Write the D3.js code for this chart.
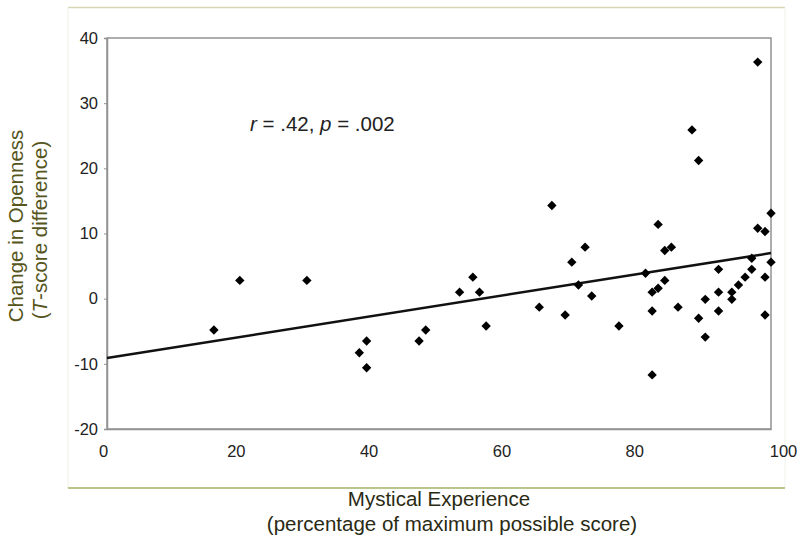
<!DOCTYPE html>
<html>
<head>
<meta charset="utf-8">
<script src="https://cdn.jsdelivr.net/npm/d3@7"></script>
<style>
  html, body { margin: 0; padding: 0; background: #fff; }
  svg { display: block; font-family: "Liberation Sans", Arial, sans-serif; }
</style>
</head>
<body>
<svg id="chart" width="800" height="544"></svg>
<script>
// ---- data ----
const mysticalX = [16.1, 20.0, 30.1, 38.0, 39.1, 39.1,
  47.0, 48.0, 53.1, 55.1, 56.1, 57.1, 65.1, 67.0, 69.0, 70.0, 71.0, 72.0, 73.0, 77.1,
  81.1, 82.1, 82.1, 82.1, 83.0, 83.0, 84.0, 84.0, 85.0, 86.0, 88.1, 89.1, 89.1, 90.1, 90.1,
  92.1, 92.1, 92.1, 94.1, 94.1, 95.1, 96.1, 97.1, 97.1, 98.0, 98.0, 99.1, 99.1, 99.1, 100, 100];
const opennessY = [-4.8, 2.8, 2.8, -8.3, -6.5, -10.6,
  -6.5, -4.8, 1.0, 3.3, 1.0, -4.2, -1.3, 14.3, -2.5, 5.6, 2.1, 7.9, 0.4, -4.2,
  3.9, 1.0, -1.9, -11.7, 11.4, 1.6, 7.4, 2.8, 7.9, -1.3, 25.9, 21.2, -3.0, -0.1, -5.9,
  4.5, 1.0, -1.9, 1.0, -0.1, 2.1, 3.3, 4.5, 6.2, 36.3, 10.8, 10.3, 3.3, -2.5, 13.1, 5.6];
const xTicks = [0, 20, 40, 60, 80, 100];
const yTicks = [-20, -10, 0, 10, 20, 30, 40];
const fitIntercept = -9.1;
const fitSlope = 0.161;
const xTitle = ["Mystical Experience", "(percentage of maximum possible score)"];

// ---- layout ----
const svg = d3.select("#chart");
const L = 107, R = 771, T = 38, B = 429;
const x = d3.scaleLinear().domain([0, 100]).range([L, R]);
const y = d3.scaleLinear().domain([-20, 40]).range([B, T]);
const fmt = d => String(d); // plain hyphen-minus like the reference

// outer frame lines
svg.append("line").attr("x1", 68).attr("x2", 785).attr("y1", 7.5).attr("y2", 7.5)
  .attr("stroke", "#d6d6b4").attr("stroke-width", 1.5);
svg.append("line").attr("x1", 68).attr("x2", 68).attr("y1", 7.5).attr("y2", 488)
  .attr("stroke", "#f0f0e4").attr("stroke-width", 1);
svg.append("line").attr("x1", 785).attr("x2", 785).attr("y1", 7.5).attr("y2", 488)
  .attr("stroke", "#f0f0e8").attr("stroke-width", 1);
svg.append("line").attr("x1", 68).attr("x2", 785).attr("y1", 488).attr("y2", 488)
  .attr("stroke", "#a3b466").attr("stroke-width", 1.5);

// plot border
svg.append("rect").attr("x", L).attr("y", T).attr("width", R - L).attr("height", B - T)
  .attr("fill", "none").attr("stroke", "#929292").attr("stroke-width", 1.5);

// axes
const yAxis = svg.append("g").attr("transform", `translate(${L},0)`)
  .call(d3.axisLeft(y).tickValues(yTicks).tickSize(3).tickPadding(6).tickFormat(fmt));
yAxis.select(".domain").attr("stroke", "#929292").attr("stroke-width", 1.5);
yAxis.selectAll(".tick line").attr("stroke", "#929292");
yAxis.selectAll("text").attr("font-size", 16.5).attr("fill", "#222");

const xAxis = svg.append("g").attr("transform", `translate(0,${B})`)
  .call(d3.axisBottom(x).tickValues(xTicks).tickSize(0).tickPadding(16).tickFormat(fmt));
xAxis.select(".domain").attr("stroke", "#929292").attr("stroke-width", 1.5);
xAxis.selectAll("text").attr("font-size", 16.5).attr("fill", "#222")
  .attr("dx", d => d === 100 ? 12 : -4);

// regression line
svg.append("line")
  .attr("x1", x(0)).attr("y1", y(fitIntercept))
  .attr("x2", x(100)).attr("y2", y(fitIntercept + fitSlope * 100))
  .attr("stroke", "#111").attr("stroke-width", 2.5);

// points
const sym = d3.symbol().type(d3.symbolSquare).size(44);
svg.append("g").selectAll("path")
  .data(mysticalX.map((v, i) => [v, opennessY[i]]))
  .join("path")
  .attr("d", sym)
  .attr("transform", d => `translate(${x(d[0])},${y(d[1])}) rotate(45)`)
  .attr("fill", "#000");

// annotation
const ann = svg.append("text").attr("x", 250).attr("y", 131)
  .attr("font-size", 20.5).attr("fill", "#222");
ann.append("tspan").attr("font-style", "italic").text("r");
ann.append("tspan").text(" = .42, ");
ann.append("tspan").attr("font-style", "italic").text("p");
ann.append("tspan").text(" = .002");

// y title
const yt = svg.append("text").attr("transform", "translate(23,226) rotate(-90)")
  .attr("text-anchor", "middle").attr("font-size", 20.5).attr("fill", "#55551c");
yt.append("tspan").text("Change in Openness");
const yt2 = svg.append("text").attr("transform", "translate(47,230) rotate(-90)")
  .attr("text-anchor", "middle").attr("font-size", 20.5).attr("fill", "#55551c");
yt2.append("tspan").text("(");
yt2.append("tspan").attr("font-style", "italic").text("T");
yt2.append("tspan").text("-score difference)");

// x title
svg.selectAll(".xtitle").data(xTitle).join("text")
  .attr("class", "xtitle")
  .attr("x", (d, i) => i === 0 ? 439 : 452).attr("y", (d, i) => 506 + i * 25)
  .attr("text-anchor", "middle").attr("font-size", 20.5).attr("fill", "#2a2a14")
  .text(d => d);
</script>
</body>
</html>
